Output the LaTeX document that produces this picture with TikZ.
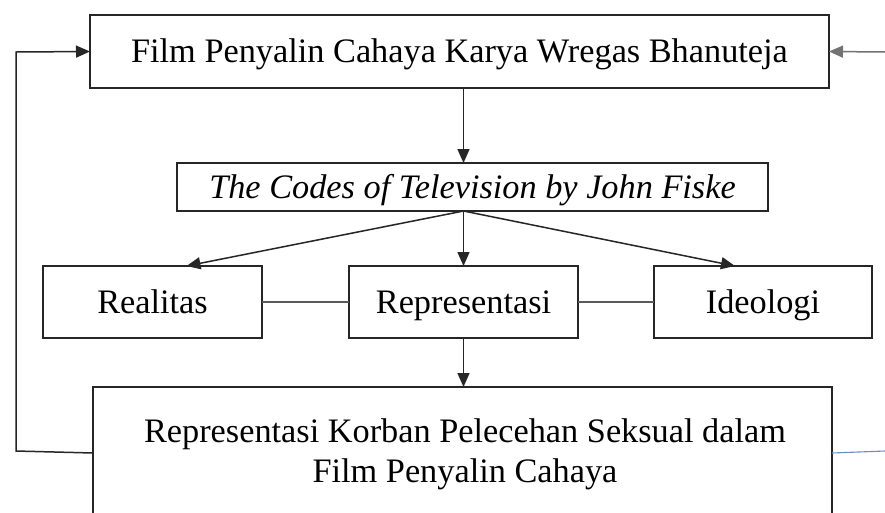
\documentclass[tikz,border=0pt]{standalone}
\usepackage{fontspec}
\setmainfont{Liberation Serif}
\usetikzlibrary{arrows.meta}
\begin{document}
\begin{tikzpicture}[x=1pt,y=-1pt,
  boxnode/.style={draw=black!85,line width=2.2pt,inner sep=0pt,outer sep=0pt,align=center,font=\fontsize{34.3}{40}\selectfont,text height=22.6pt,text depth=0pt},
  conn/.style={draw=black!85,line width=1.5pt},
  arr/.style={conn,-{Triangle[length=14pt,width=12pt]}}]
\clip (0,0) rectangle (885,512);
\fill[white] (0,0) rectangle (885,512);
\node[boxnode,minimum width=739pt,minimum height=73pt] (film) at (459.5,51.5) {Film Penyalin Cahaya Karya Wregas Bhanuteja};
\node[boxnode,minimum width=591pt,minimum height=48pt] (codes) at (472.5,187) {\itshape The Codes of Television by John Fiske};
\node[boxnode,minimum width=219pt,minimum height=72pt] (real) at (152.5,302) {Realitas};
\node[boxnode,minimum width=229pt,minimum height=72pt] (rep) at (463.5,302) {Representasi};
\node[boxnode,minimum width=218pt,minimum height=72pt] (ideo) at (763,302) {Ideologi};
\node[draw=black!85,line width=2.2pt,inner sep=0pt,outer sep=0pt,minimum width=739pt,minimum height=130pt] (korban) at (462.5,452) {};
\node[align=center,inner sep=0pt,font=\fontsize{34.3}{40}\selectfont] (korbantext) at (465,454) {Representasi Korban Pelecehan Seksual dalam\\Film Penyalin Cahaya};
\coordinate (src) at (codes.south -| rep.north);
\coordinate (rin) at (885,52);
\coordinate (bout) at (885,451);
\coordinate (lc1) at (16,451);
\coordinate (lc2) at (16,52);
\draw[arr] (film.south -| rep.north) -- (codes.north -| rep.north);
\draw[arr] (src) -- ([xshift=34pt]real.north);
\draw[arr] (src) -- (rep.north);
\draw[arr] (src) -- ([xshift=-28pt]ideo.north);
\draw[arr] (rep.south) -- (korban.north -| rep.south);
\draw[conn,draw=black!65] (real.east) -- (rep.west);
\draw[conn,draw=black!65] (rep.east) -- (ideo.west);
\draw[conn,draw=black!55,-{Triangle[length=14pt,width=12pt]}] (rin) -- (film.east);
\draw[conn,draw={rgb,255:red,110;green,140;blue,185},line width=1.1pt] ([yshift=-1pt]korban.east) -- (bout);
\draw[conn,-{Triangle[length=14pt,width=12pt]}] ([yshift=-1pt]korban.west) -- (lc1) -- (lc2) -- (film.west);
\end{tikzpicture}
\end{document}
